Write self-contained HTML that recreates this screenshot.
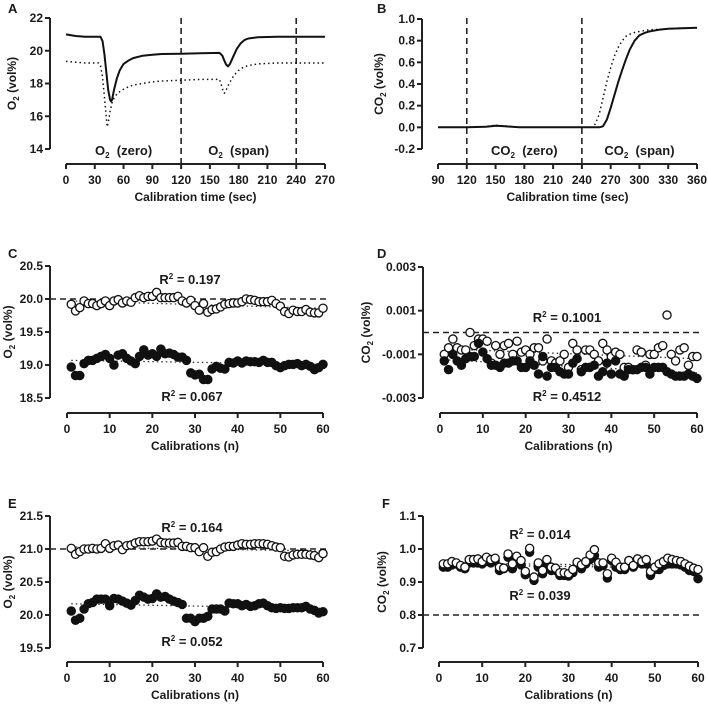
<!DOCTYPE html>
<html><head><meta charset="utf-8"><style>
body{margin:0;background:#fff;}
svg{display:block;font-family:"Liberation Sans",Arial,sans-serif;font-weight:bold;}
</style></head><body>
<svg id="fig" width="708" height="704" viewBox="0 0 708 704" xmlns="http://www.w3.org/2000/svg"></svg>
<script>
// ---- Panel A data ----
const aSolidT=[0,10,20,30,36,38,40,42,44,46,47,48,50,53,56,60,65,70,80,90,100,120,140,160,163,165,167,169,171,174,178,182,186,190,200,220,240,270];
const aSolidV=[21.0,20.9,20.85,20.85,20.85,20.6,19.8,18.7,17.6,17.0,16.9,17.0,17.6,18.3,18.8,19.2,19.4,19.55,19.7,19.75,19.8,19.82,19.85,19.87,19.7,19.4,19.15,19.05,19.2,19.6,20.1,20.45,20.65,20.75,20.82,20.85,20.85,20.85];
const aDotT=[0,10,20,30,34,36,38,40,42,43,44,46,48,50,53,56,60,65,70,80,90,100,120,140,160,162,164,165,167,170,175,180,185,190,200,220,240,270];
const aDotV=[19.35,19.3,19.25,19.25,19.25,19.1,18.4,17.2,15.9,15.35,15.6,16.3,16.8,17.1,17.35,17.5,17.65,17.8,17.9,18.0,18.1,18.15,18.2,18.25,18.25,17.9,17.5,17.4,17.6,18.0,18.5,18.8,19.0,19.1,19.2,19.25,19.25,19.25];
// ---- Panel B data ----
const bSolidT=[90,120,140,150,160,175,200,240,258,262,266,270,274,278,282,286,290,295,300,305,310,320,330,345,360];
const bSolidV=[0,0,0.005,0.015,0.01,0,0,0,0,0.01,0.07,0.18,0.3,0.42,0.53,0.63,0.72,0.8,0.85,0.87,0.885,0.9,0.91,0.915,0.92];
const bDotT=[90,120,140,150,160,175,200,240,250,254,258,262,266,270,274,278,282,286,290,295,300,310,320,340,360];
const bDotV=[0,0,0.008,0.02,0.012,0,0,0,0,0.03,0.12,0.27,0.42,0.55,0.66,0.74,0.8,0.84,0.86,0.875,0.885,0.9,0.905,0.915,0.92];
// ---- Panel C data ----
const cOpen=[19.92,19.82,19.87,19.97,19.93,19.93,19.90,19.93,19.97,19.90,19.97,19.99,19.94,19.97,19.95,20.02,20.05,20.02,20.04,20.04,20.10,20.02,20.02,20.02,20.02,20.04,19.97,19.94,19.98,19.90,19.83,19.93,19.80,19.84,19.85,19.88,19.92,19.93,19.94,19.94,19.96,20.00,19.99,19.98,19.96,19.96,19.96,19.98,19.93,19.89,19.81,19.78,19.83,19.81,19.81,19.84,19.80,19.79,19.79,19.86];
const cFilled=[18.97,18.84,18.84,19.02,19.07,19.07,19.10,19.13,19.16,19.10,19.00,19.15,19.17,19.10,19.06,19.02,19.13,19.23,19.15,19.17,19.13,19.24,19.17,19.18,19.16,19.12,19.12,19.07,18.88,18.85,18.86,18.78,18.78,18.94,18.98,18.95,18.94,19.04,19.03,19.06,19.03,19.06,19.05,19.05,19.04,19.07,19.04,19.04,18.99,18.96,18.99,19.01,19.01,19.02,18.99,19.01,18.98,18.93,18.96,19.01];
const cFitOpen=[19.97,19.86], cFitFilled=[19.07,19.01];
// ---- Panel D data (x0.001) ----
const dOpen=[-1.0,-0.7,-0.3,-0.7,-0.8,-0.8,0.0,-0.6,-0.3,-0.3,-0.4,-1.4,-0.6,-1.0,-0.6,-0.5,-1.0,-0.4,-0.9,-0.8,-1.0,-0.7,-0.7,-1.3,-0.3,-1.3,-1.4,-1.3,-1.0,-1.6,-0.5,-0.8,-1.7,-0.8,-0.8,-1.0,-1.3,-0.5,-0.8,-1.1,-0.9,-1.0,-1.6,-1.6,-1.7,-0.8,-0.9,-1.5,-1.0,-1.0,-0.7,-0.6,0.8,-1.0,-1.3,-0.8,-0.7,-1.5,-1.1,-1.1];
const dFilled=[-1.3,-1.7,-1.0,-1.3,-1.5,-1.2,-1.1,-1.1,-0.5,-0.9,-1.2,-1.5,-1.5,-1.6,-1.4,-1.4,-1.3,-1.3,-1.6,-1.6,-1.3,-1.5,-1.9,-1.1,-2.0,-1.6,-1.6,-1.8,-1.9,-1.9,-1.4,-1.2,-1.8,-1.6,-1.6,-1.5,-2.0,-1.8,-1.4,-1.9,-1.3,-1.9,-2.0,-1.7,-1.7,-1.7,-1.6,-1.6,-1.9,-1.6,-1.6,-1.6,-1.8,-1.9,-2.0,-2.0,-2.0,-1.9,-2.0,-2.1];
const dFitOpen=[-0.75,-1.2], dFitFilled=[-1.25,-1.85];
// ---- Panel E data ----
const eOpen=[21.01,20.92,20.96,21.00,21.00,21.01,21.00,21.01,21.08,21.01,21.05,21.06,20.99,21.05,21.06,21.09,21.11,21.11,21.11,21.12,21.15,21.10,21.09,21.09,21.09,21.10,21.04,21.04,21.02,21.02,20.96,21.02,20.89,20.95,20.96,21.00,21.03,21.04,21.04,21.06,21.08,21.07,21.07,21.08,21.08,21.08,21.07,21.05,21.03,21.02,20.89,20.88,20.91,20.92,20.92,20.92,20.91,20.90,20.87,20.93];
const eFilled=[20.06,19.92,19.95,20.09,20.17,20.19,20.24,20.24,20.24,20.14,20.25,20.24,20.21,20.18,20.15,20.22,20.30,20.27,20.24,20.25,20.32,20.27,20.28,20.24,20.21,20.19,20.16,19.95,19.95,19.90,19.95,19.95,19.98,20.09,20.09,20.09,20.06,20.18,20.17,20.17,20.14,20.16,20.13,20.14,20.17,20.18,20.14,20.11,20.10,20.11,20.10,20.10,20.11,20.11,20.11,20.13,20.09,20.07,20.03,20.05];
const eFitOpen=[21.03,20.97], eFitFilled=[20.17,20.10];
// ---- Panel F data ----
const fOpen=[0.955,0.955,0.962,0.958,0.950,0.945,0.968,0.968,0.970,0.962,0.975,0.968,0.972,0.945,0.942,0.985,0.955,0.978,0.965,0.932,1.002,0.915,0.958,0.935,0.968,0.945,0.942,0.928,0.928,0.925,0.938,0.960,0.952,0.962,0.982,0.998,0.958,0.958,0.925,0.972,0.960,0.945,0.945,0.965,0.950,0.970,0.962,0.968,0.932,0.945,0.955,0.962,0.972,0.968,0.965,0.962,0.955,0.948,0.942,0.938];
const fFilled=[0.945,0.945,0.952,0.955,0.945,0.940,0.958,0.958,0.958,0.955,0.962,0.958,0.965,0.935,0.940,0.975,0.940,0.965,0.952,0.922,0.990,0.905,0.945,0.925,0.955,0.935,0.935,0.920,0.920,0.918,0.928,0.950,0.940,0.955,0.968,0.980,0.945,0.950,0.912,0.965,0.945,0.938,0.938,0.965,0.945,0.958,0.955,0.955,0.920,0.938,0.938,0.950,0.955,0.955,0.955,0.952,0.945,0.935,0.932,0.910];
const fFitOpen=[0.958,0.948], fFitFilled=[0.952,0.942];

const NS="http://www.w3.org/2000/svg";
const svg=document.getElementById('fig');
function mk(tag,attrs,parent){const e=document.createElementNS(NS,tag);for(const k in attrs)e.setAttribute(k,attrs[k]);(parent||svg).appendChild(e);return e;}
function lin(d0,d1,r0,r1){return v=>r0+(v-d0)*(r1-r0)/(d1-d0);}
function txt(x,y,s,size,anchor,parent,name){const t=mk('text',{x:x,y:y,'font-size':size,'text-anchor':anchor||'middle',fill:'#1a1a1a'},parent);t.innerHTML=s;


return t;}

function panel(p){
  const g=mk('g',{});
  
  
  const sx=lin(p.xd[0],p.xd[1],p.xr[0],p.xr[1]);
  const sy=lin(p.yd[0],p.yd[1],p.yr[0],p.yr[1]);
  txt(p.lab[0],p.lab[1],p.id,13,'start',g,'panel-label');
  const ya=mk('line',{x1:p.yx,x2:p.yx,y1:p.yr[1],y2:p.yr[0],stroke:'#222','stroke-width':2},g);
  
  
  p.yt.forEach((v,i)=>{const y=sy(v);mk('line',{x1:p.yx-5,x2:p.yx,y1:y,y2:y,stroke:'#222','stroke-width':2},g);
    txt(p.yx-7,y+4,p.ytl[i],12,'end',g,'y-tick-label');});
  const xa=mk('line',{x1:p.xr[0],x2:p.xr[1],y1:p.xy,y2:p.xy,stroke:'#222','stroke-width':2},g);
  
  
  p.xt.forEach(v=>{const x=sx(v);mk('line',{x1:x,x2:x,y1:p.xy,y2:p.xy+5,stroke:'#222','stroke-width':2},g);
    txt(x,p.xy+20,String(v),12,'middle',g,'x-tick-label');});
  txt((p.xr[0]+p.xr[1])/2,p.xy+37,p.xtitle,12,'middle',g,'x-axis-title');
  const yt=txt(0,0,p.ytitle,12,'middle',g,'y-axis-title');
  const ym=(p.yr[0]+p.yr[1])/2;
  yt.setAttribute('transform','translate('+p.ytx+','+ym+') rotate(-90)');
  return {g,sx,sy};
}
function dashedH(P,v,x0,x1){const l=mk('line',{x1:x0,x2:x1,y1:P.sy(v),y2:P.sy(v),stroke:'#222','stroke-width':1.6,'stroke-dasharray':'6,4'},P.g);

}
function curve(P,T,V,dotted,name){const d=T.map((t,i)=>(i?'L':'M')+P.sx(t).toFixed(1)+','+P.sy(V[i]).toFixed(1)).join('');
const el=mk('path',{d:d,fill:'none',stroke:'#111','stroke-width':dotted?1.5:2,'stroke-dasharray':dotted?'1.5,3':'none','stroke-linejoin':'round'},P.g);

}
function scatter(P,vals,open,name,scale){vals.forEach((v,i)=>{const c=mk('circle',{cx:P.sx(i+1),cy:P.sy(v*(scale||1)),r:4.1,fill:open?'#fff':'#111',stroke:'#111','stroke-width':1.3},P.g);

});}
function fit(P,f,name,scale){const s=scale||1;const l=mk('line',{x1:P.sx(1),x2:P.sx(60),y1:P.sy(f[0]*s),y2:P.sy(f[1]*s),stroke:'#333','stroke-width':1.3,'stroke-dasharray':'1.5,3'},P.g);

}
function r2(P,x,y,val){txt(x,y,'R<tspan font-size="8" dy="-5">2</tspan><tspan dy="5"> = '+val+'</tspan>',13,'middle',P.g,'r-squared-label');}

const A=panel({id:'A',lab:[8,13],xd:[0,270],xr:[66,325],yd:[14,22],yr:[149,18],yx:50,xy:164,
  yt:[14,16,18,20,22],ytl:['14','16','18','20','22'],xt:[0,30,60,90,120,150,180,210,240,270],
  xtitle:'Calibration time (sec)',ytitle:'O<tspan font-size="8" dy="3">2</tspan><tspan dy="-3"> (vol%)</tspan>',ytx:16});
[120,240].forEach(t=>{const l=mk('line',{x1:A.sx(t),x2:A.sx(t),y1:18,y2:164,stroke:'#222','stroke-width':1.6,'stroke-dasharray':'6,4'},A.g);

});
curve(A,aDotT,aDotV,true,'o2-dotted-trace');
curve(A,aSolidT,aSolidV,false,'o2-solid-trace');
txt(A.sx(60),155,'O<tspan font-size="8" dy="3">2</tspan><tspan dy="-3">&#160; (zero)</tspan>',13,'middle',A.g,'o2-zero-label');
txt(A.sx(180),155,'O<tspan font-size="8" dy="3">2</tspan><tspan dy="-3">&#160; (span)</tspan>',13,'middle',A.g,'o2-span-label');

const B=panel({id:'B',lab:[377,13],xd:[90,360],xr:[438,697],yd:[-0.2,1.0],yr:[149,19],yx:422,xy:164,
  yt:[-0.2,0,0.2,0.4,0.6,0.8,1.0],ytl:['-0.2','0.0','0.2','0.4','0.6','0.8','1.0'],xt:[90,120,150,180,210,240,270,300,330,360],
  xtitle:'Calibration time (sec)',ytitle:'CO<tspan font-size="8" dy="3">2</tspan><tspan dy="-3"> (vol%)</tspan>',ytx:383});
[120,240].forEach(t=>{const l=mk('line',{x1:B.sx(t),x2:B.sx(t),y1:18,y2:164,stroke:'#222','stroke-width':1.6,'stroke-dasharray':'6,4'},B.g);

});
curve(B,bDotT,bDotV,true,'co2-dotted-trace');
curve(B,bSolidT,bSolidV,false,'co2-solid-trace');
txt(B.sx(180),155,'CO<tspan font-size="8" dy="3">2</tspan><tspan dy="-3">&#160; (zero)</tspan>',13,'middle',B.g,'co2-zero-label');
txt(B.sx(300),155,'CO<tspan font-size="8" dy="3">2</tspan><tspan dy="-3">&#160; (span)</tspan>',13,'middle',B.g,'co2-span-label');

const calX=[0,10,20,30,40,50,60];
const C=panel({id:'C',lab:[8,258],xd:[0,60],xr:[67,323],yd:[18.5,20.5],yr:[398,266],yx:50,xy:413,
  yt:[18.5,19,19.5,20,20.5],ytl:['18.5','19.0','19.5','20.0','20.5'],xt:calX,
  xtitle:'Calibrations (n)',ytitle:'O<tspan font-size="8" dy="3">2</tspan><tspan dy="-3"> (vol%)</tspan>',ytx:12});
dashedH(C,20.0,50,326);
fit(C,cFitOpen,'fit-open');fit(C,cFitFilled,'fit-filled');
scatter(C,cOpen,true,'point-open');scatter(C,cFilled,false,'point-filled');
r2(C,190,284,'0.197');r2(C,192,401,'0.067');

const D=panel({id:'D',lab:[377,258],xd:[0,60],xr:[440,697],yd:[-3,3],yr:[398,267],yx:423,xy:413,
  yt:[-3,-1,1,3],ytl:['-0.003','-0.001','0.001','0.003'],xt:calX,
  xtitle:'Calibrations (n)',ytitle:'CO<tspan font-size="8" dy="3">2</tspan><tspan dy="-3"> (vol%)</tspan>',ytx:370});
dashedH(D,0,423,700);
fit(D,dFitOpen,'fit-open');fit(D,dFitFilled,'fit-filled');
scatter(D,dOpen,true,'point-open');scatter(D,dFilled,false,'point-filled');
r2(D,567,322,'0.1001');r2(D,567,401,'0.4512');

const E=panel({id:'E',lab:[8,508],xd:[0,60],xr:[67,323],yd:[19.5,21.5],yr:[648,516],yx:50,xy:662,
  yt:[19.5,20,20.5,21,21.5],ytl:['19.5','20.0','20.5','21.0','21.5'],xt:calX,
  xtitle:'Calibrations (n)',ytitle:'O<tspan font-size="8" dy="3">2</tspan><tspan dy="-3"> (vol%)</tspan>',ytx:12});
dashedH(E,21.0,50,326);
fit(E,eFitOpen,'fit-open');fit(E,eFitFilled,'fit-filled');
scatter(E,eOpen,true,'point-open');scatter(E,eFilled,false,'point-filled');
r2(E,192,532,'0.164');r2(E,192,646,'0.052');

const F=panel({id:'F',lab:[382,508],xd:[0,60],xr:[439,698],yd:[0.7,1.1],yr:[648,516],yx:423,xy:662,
  yt:[0.7,0.8,0.9,1.0,1.1],ytl:['0.7','0.8','0.9','1.0','1.1'],xt:calX,
  xtitle:'Calibrations (n)',ytitle:'CO<tspan font-size="8" dy="3">2</tspan><tspan dy="-3"> (vol%)</tspan>',ytx:386});
dashedH(F,0.8,423,700);
fit(F,fFitOpen,'fit-open');fit(F,fFitFilled,'fit-filled');
scatter(F,fFilled,false,'point-filled');scatter(F,fOpen,true,'point-open');
r2(F,540,539,'0.014');r2(F,540,600,'0.039');
</script>
</body></html>
